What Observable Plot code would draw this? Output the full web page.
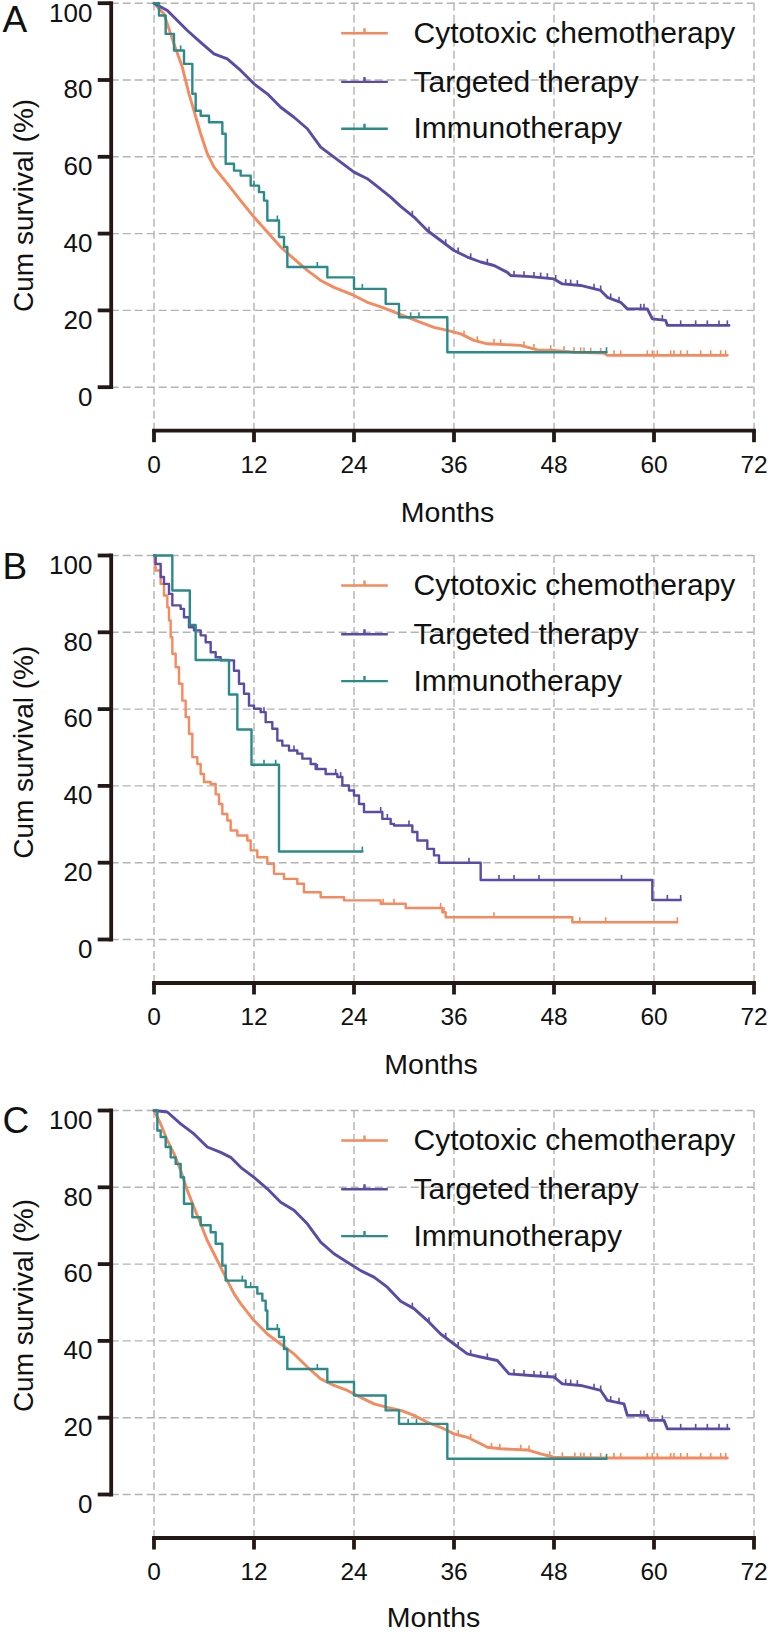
<!DOCTYPE html>
<html><head><meta charset="utf-8">
<script src="https://cdn.jsdelivr.net/npm/d3@7"></script>
<script src="https://cdn.jsdelivr.net/npm/@observablehq/plot@0.6"></script>
<style>
html,body{margin:0;padding:0;background:#fff;}
#chart{width:772px;}
#chart svg{display:block;}
</style></head><body><div id="chart"></div>
<script>
// ---------- data ----------
const monthTicks = [0, 12, 24, 36, 48, 60, 72];
const survivalTicks = [0, 20, 40, 60, 80, 100];
const seriesNames = ["Cytotoxic chemotherapy", "Targeted therapy", "Immunotherapy"];
const panelLetters = ["A", "B", "C"];
const xLabel = "Months";
const yLabel = "Cum survival (%)";

// Panel A: [months, survival %]
const chemoA = [[0,100],[1.2,97.2],[2.4,89.4],[3.4,83.3],[4.2,76.4],[4.8,72],[5.6,66],[6.4,60.8],[7.2,57.3],[8.8,53],[10.4,48.6],[12,44.3],[13.6,40.4],[15.2,36.5],[16.8,33.4],[18.4,30.4],[20,27.8],[21.6,26],[24,23.9],[25.6,22.1],[27.4,20.8],[29.6,18.9],[32,16.9],[33.6,15.6],[35.2,14.8],[36.8,13.9],[38.4,12.2],[40,11.3],[44,10.9],[46,9.7],[48,9.6],[50.4,9.1],[54,8.9],[54.4,8.3],[68.8,8.3]];
const targetedA = [[0,100],[1.6,98.1],[4,92.9],[5.6,89.8],[7.2,86.8],[8.8,85.5],[10.4,82.5],[12,79],[13.6,76.4],[15.2,72.9],[16.8,70.3],[18.4,67.3],[20,62.5],[21.6,59.9],[23.2,57.3],[24,56],[25.6,54.3],[27.2,51.6],[28.4,49.5],[29.6,47.1],[31.2,44.3],[32.8,40.8],[34.4,38.2],[36,35.6],[37.6,33.9],[39.2,32.6],[40.8,31.7],[42.4,29.9],[42.8,29.1],[45.2,28.8],[48,28.2],[49,26.9],[51.2,26.5],[53.6,25.2],[54.4,23.4],[56,22.1],[56.8,20.4],[59.2,20.4],[59.8,17.8],[61.4,17.4],[61.6,16.1],[69,16.1]];
const immunoA = [[0,100],[0.6,96.8],[1.4,92],[2.4,87.7],[3.6,84.2],[4.6,76.4],[5,72],[5.6,70.7],[6.6,69],[8.2,66],[8.6,58.2],[9.6,56.4],[10.4,55.1],[11.6,52.5],[12.6,50.8],[13.2,48.6],[13.6,43.4],[15,39.1],[15.6,36.5],[16,31.3],[20.8,28.6],[24,25.6],[27.8,21.7],[29.4,18.2],[35.2,9.1],[54.3,9.1]];
const chemoACensored = [35.2,37.2,38.8,40.8,41.6,44.4,45.6,47.6,49.2,50.4,51.2,51.6,52.4,53.6,55.2,56,59.2,59.8,60.4,62,62.4,63.2,64,65.6,66.8,68,68.6];
const targetedACensored = [31,33,35,36.5,38,40,43.2,44.4,45.6,46.4,47.2,48.2,49.4,50,50.8,52.8,53.6,54.8,55.8,58.4,58.8,61,63.2,65,66.4,67.8,68.8];
const immunoACensored = [3.2,12,14.8,19.6,25,30.8,31.8,54.3];

// Panel B
const chemoB = [[0,100],[0.1,97],[0.2,96.1],[0.8,92.6],[1.2,89.6],[1.6,86.5],[1.8,83.1],[2,78.7],[2.2,74.4],[2.6,70.9],[3,66.6],[3.4,62.2],[3.8,57.9],[4.2,53.6],[4.6,47.5],[5.2,45.7],[5.6,43.1],[6,41],[6.8,40.5],[7.4,37.8],[7.8,35.3],[8.2,32.7],[8.8,31],[9.2,28.4],[10,27.1],[11.2,25.8],[11.6,23.2],[12.4,21.4],[13.6,19.7],[14.4,17.1],[15.6,15.8],[17.2,14.5],[18,12.3],[20,11],[22.8,10.2],[27.2,9.3],[30.2,8.2],[34.6,7.1],[35,5.8],[50.2,4.5],[62.8,4.5]];
const targetedB = [[0,100],[0.2,97.8],[0.8,94.4],[1.2,92.6],[1.8,90],[2.2,87],[3.2,86.1],[3.6,83.9],[4.2,81.3],[4.8,80.5],[5.6,79.2],[6.2,77.4],[6.8,74.8],[7.4,73.5],[8,72.7],[9.6,70],[10.2,66.6],[10.8,64],[11.4,60.9],[12,60.1],[12.8,59.2],[13.4,56.6],[14.2,54.9],[14.8,51.8],[15.4,50.5],[16.2,49.2],[17.2,48.4],[17.8,47.1],[18.8,45.7],[19.4,44.4],[20.6,43.1],[22,42.3],[22.6,40.1],[23.4,38.8],[24,37.5],[24.6,35.3],[25.2,33.2],[27.4,31.4],[28.4,30.1],[28.8,29.7],[31,28],[31.6,25.8],[32.8,23.6],[33.6,21.9],[34.2,20],[39.2,15.5],[59.8,10.3],[63.2,10.3]];
const immunoB = [[0,100],[2.2,90.9],[4.3,81.9],[5,72.8],[9,63.8],[10,54.7],[11.7,45.5],[15,22.9],[25,22.9]];
const chemoBCensored = [11.2,27.5,28.8,34.4,34.8,40.8,51.1,54.2,62.8];
const targetedBCensored = [13.2,16.8,19.6,21.8,22.4,27.2,28,30.6,37.8,41.4,43.2,46.2,56.1,61.6,63.2];
const immunoBCensored = [13.2,14.6,25];

// Panel C
const chemoC = [[0,100],[0.8,96.5],[1.6,92.2],[2.4,88.7],[3.2,84.4],[4,79.2],[4.8,74.8],[5.6,70.5],[6.4,66.1],[7.2,62.7],[8,59.2],[8.8,55.7],[9.6,52.3],[10.4,49.7],[12,45.3],[13.6,41.8],[15.2,39.2],[16.8,36.6],[18.4,33.2],[20,30.1],[21.6,28.4],[23.2,27.1],[24.8,25.3],[26.4,23.6],[28,22.7],[29.6,21.9],[31.2,20.6],[32.8,18.8],[34.4,17.5],[36,15.8],[37.6,14.9],[39.2,13.2],[40,12.3],[41.6,11.9],[44.8,11.6],[46.4,10.6],[48,9.7],[54.4,9.5],[68.8,9.5]];
const targetedC = [[0,100],[1.6,99.6],[3.2,96.5],[4.8,93.9],[6.4,90.5],[8,89.1],[9.2,87.8],[10.4,85.2],[12,82.6],[13.6,79.6],[15.2,76.1],[16.8,74],[18.4,70.5],[20,65.7],[21.6,62.7],[23.2,60.5],[24.8,58.3],[26.4,56.6],[28,54],[29.6,50.3],[31.2,48.4],[32.8,45.3],[34.4,41.8],[36,39.2],[37.6,36.6],[39.2,35.8],[41.2,34.9],[42.6,31.4],[45.2,31],[48,30.6],[49,28.8],[51.2,28.4],[53.6,27.1],[54.4,24.5],[56.4,23.6],[56.8,20.6],[59.2,20.6],[59.4,19.3],[61.2,19.3],[61.6,17.1],[69,17.1]];
const immunoC = [[0,100],[0.4,94.8],[0.8,93.1],[1.4,90.5],[2,87.8],[2.6,86.1],[3.2,82.6],[3.6,75.7],[4.6,72.2],[5.6,70.1],[6.8,68.3],[7.4,65.3],[8.2,59.6],[8.6,55.7],[11,54],[12.4,52.3],[13,50.5],[13.4,47.9],[13.6,43.1],[15,41],[15.6,37.9],[16,32.7],[20.8,29.3],[24,25.8],[27.8,21.9],[29.4,18.4],[35.2,9.3],[54.3,9.3]];
const chemoCCensored = [36.5,38,40.5,41.5,44,45,47.5,49,50.5,51.2,51.6,52.4,53.6,55.2,56,59.2,59.8,60.4,62,62.4,63.2,64,65.6,66.8,68,68.6];
const targetedCCensored = [31,33,35,36.5,38,40,43.2,44.4,45.6,46.4,47.2,48.2,49.4,50,50.8,52.8,53.6,54.8,55.8,58.4,58.8,61,63.2,65,66.4,67.8,68.8];
const immunoCCensored = [10.6,11.6,14.8,19.6,30.5,31.5,54.3];

// ---------- styles & layout ----------
const seriesColors = ["#f48a5e", "#5b4aa6", "#2b8a8a"];
const dark = "#231815";
const gridColor = "#b3b3b3";

const panels = [
  {letter: panelLetters[0], height: 552, top: 2.7, letterDy: 17.3, titleDy: -11.5, monthsDx: 15, monthsDy: 81.8,
   series: [{pts: chemoA, cens: chemoACensored, step: false}, {pts: targetedA, cens: targetedACensored, step: false}, {pts: immunoA, cens: immunoACensored, step: true}]},
  {letter: panelLetters[1], height: 555, top: 3, letterDy: 11.7, titleDy: -17, monthsDx: -1.5, monthsDy: 81.5,
   series: [{pts: chemoB, cens: chemoBCensored, step: true}, {pts: targetedB, cens: targetedBCensored, step: true}, {pts: immunoB, cens: immunoBCensored, step: true}]},
  {letter: panelLetters[2], height: 525, top: 3, letterDy: 11, titleDy: -18.7, monthsDx: 1, monthsDy: 79.5,
   series: [{pts: chemoC, cens: chemoCCensored, step: false}, {pts: targetedC, cens: targetedCCensored, step: false}, {pts: immunoC, cens: immunoCCensored, step: true}]}
];
const legendDy = [30, 78.7, 125.6];

function valueAt(pts, t, step) {
  for (let i = pts.length - 1; i >= 0; i--) {
    if (pts[i][0] <= t) {
      if (step || i === pts.length - 1) return pts[i][1];
      const [t0, s0] = pts[i], [t1, s1] = pts[i + 1];
      return t1 === t0 ? s1 : s0 + (s1 - s0) * (t - t0) / (t1 - t0);
    }
  }
  return pts[0][1];
}

const censorSymbol = {draw(ctx) { ctx.moveTo(0, 0); ctx.lineTo(0, -5); }};
const legendSymbol = {draw(ctx) { ctx.moveTo(-23.3, 0); ctx.lineTo(23.3, 0); ctx.moveTo(0, 0); ctx.lineTo(0, -5); }};

const font = "'Liberation Sans', Arial, Helvetica, sans-serif";
const chart = document.getElementById("chart");

for (const p of panels) {
  const curveMarks = [];
  p.series.forEach((s, i) => {
    curveMarks.push(Plot.line(s.pts, {x: d => d[0], y: d => d[1], stroke: seriesColors[i], strokeWidth: s.step ? 2.4 : 2.9, curve: s.step ? "step-after" : "linear"}));
    curveMarks.push(Plot.dot(s.cens.map(t => [t, valueAt(s.pts, t, s.step)]), {x: d => d[0], y: d => d[1], symbol: censorSymbol, stroke: seriesColors[i], strokeWidth: 1.6, fill: "none"}));
  });
  const legendMarks = [];
  seriesNames.forEach((name, i) => {
    legendMarks.push(Plot.dot([name], {frameAnchor: "top-left", dx: 253.3, dy: legendDy[i], symbol: legendSymbol, stroke: seriesColors[i], strokeWidth: 2.4, fill: "none"}));
    legendMarks.push(Plot.text([name], {text: d => d, frameAnchor: "top-left", dx: 302.3, dy: legendDy[i], textAnchor: "start", lineAnchor: "middle", fontSize: 30, fill: "#111"}));
  });
  const svg = Plot.plot({
    width: 772,
    height: p.height,
    marginLeft: 110.7,
    marginRight: 18.5,
    marginTop: p.top,
    marginBottom: p.height - p.top - 427.5,
    x: {domain: [0, 72], range: [153.5, 753.5]},
    y: {domain: [0, 100], range: [p.top + 384, p.top]},
    style: {fontFamily: font, fontSize: "25px", color: "#111", background: "#fff", overflow: "visible"},
    marks: [
      Plot.ruleY(survivalTicks, {stroke: gridColor, strokeWidth: 1.4, strokeDasharray: "8,4"}),
      Plot.ruleX(monthTicks, {stroke: gridColor, strokeWidth: 1.4, strokeDasharray: "8,4"}),
      Plot.frame({anchor: "left", insetBottom: 43.5, stroke: dark, strokeWidth: 3.8, strokeLinecap: "square"}),
      Plot.frame({anchor: "bottom", insetLeft: 42.8, stroke: dark, strokeWidth: 3.8, strokeLinecap: "square"}),
      Plot.axisY(survivalTicks, {anchor: "left", tickSize: 13, fill: "none", stroke: dark, strokeWidth: 3.8, label: null}),
      Plot.axisY(survivalTicks, {anchor: "left", tickSize: 13, tickPadding: 5.7, stroke: "none", fill: "#111", fontSize: 26, dy: 10, label: null}),
      Plot.axisX(monthTicks, {anchor: "bottom", tickSize: 12, fill: "none", stroke: dark, strokeWidth: 3.8, label: null}),
      Plot.axisX(monthTicks, {anchor: "bottom", tickSize: 12, tickPadding: 13, stroke: "none", fill: "#111", fontSize: 24.5, label: null}),
      ...curveMarks,
      ...legendMarks,
      Plot.text([p.letter], {text: d => d, frameAnchor: "top-left", dx: -108.7, dy: p.letterDy, textAnchor: "start", lineAnchor: "middle", fontSize: 37, fill: "#111"}),
      Plot.text([yLabel], {text: d => d, frameAnchor: "left", rotate: -90, dx: -86.7, dy: p.titleDy, textAnchor: "middle", lineAnchor: "middle", fontSize: 28, fill: "#111"}),
      Plot.text([xLabel], {text: d => d, frameAnchor: "bottom", dx: p.monthsDx, dy: p.monthsDy, textAnchor: "middle", lineAnchor: "middle", fontSize: 28.5, fill: "#111"})
    ]
  });
  chart.appendChild(svg);
}
</script>
</body></html>
